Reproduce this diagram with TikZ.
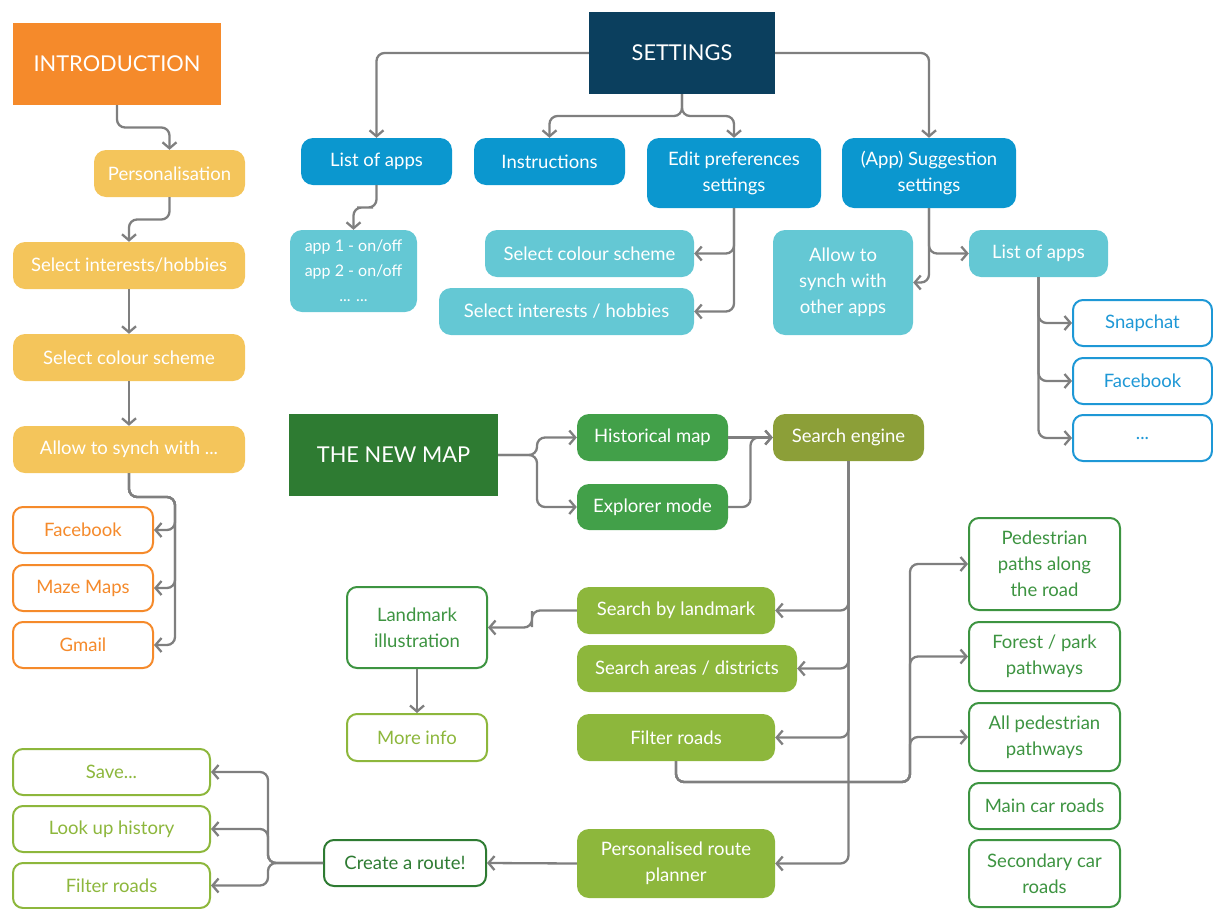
\documentclass[tikz,border=0pt]{standalone}
\usepackage{fontspec}
\setmainfont{Lato}
\usetikzlibrary{arrows.meta,calc}
\definecolor{cOrange}{HTML}{F58A2B}
\definecolor{cYellow}{HTML}{F4C55B}
\definecolor{cNavy}{HTML}{0B3F5E}
\definecolor{cBlue}{HTML}{0B97CF}
\definecolor{cTeal}{HTML}{64C8D4}
\definecolor{cOBlue}{HTML}{1E98D6}
\definecolor{cDGreen}{HTML}{2E7B32}
\definecolor{cMGreen}{HTML}{42A049}
\definecolor{cOlive}{HTML}{8C9F38}
\definecolor{cLGreen}{HTML}{8DB73C}
\definecolor{cOGreen}{HTML}{3D9441}
\definecolor{cLine}{HTML}{7F7F7F}
\begin{document}
\begin{tikzpicture}[x=1pt,y=-1pt,
  box/.style={rounded corners=12pt, inner sep=0pt, align=center, font=\fontsize{18.5}{26}\selectfont, text=white},
  fbox/.style={box, fill=#1},
  obox/.style={box, draw=#1, line width=2pt, text=#1, fill=white, rounded corners=10pt},
  head/.style={fill=#1, text=white, font=\fontsize{21.8}{26}\selectfont, inner sep=0pt},
  conn/.style={draw=cLine, line width=2.3pt, rounded corners=8pt, -{Straight Barb[length=6pt,width=14pt]}},
]
\useasboundingbox (0,0) rectangle (1213,908);

% INTRODUCTION branch
\node[head=cOrange, minimum width=208pt, minimum height=82pt] (intro) at (117,64) {INTRODUCTION};
\node[fbox=cYellow, minimum width=151pt, minimum height=47pt] (pers) at (169.5,173.5) {Personalisation};
\node[fbox=cYellow, minimum width=232pt, minimum height=47pt] (selint) at (129,265.5) {Select interests/hobbies};
\node[fbox=cYellow, minimum width=232pt, minimum height=47pt] (selcol) at (129,357.5) {Select colour scheme};
\node[fbox=cYellow, minimum width=232pt, minimum height=47pt] (allow) at (129,449.5) {Allow to synch with ...};
\node[obox=cOrange, minimum width=140pt, minimum height=46pt] (fb) at (83,530) {Facebook};
\node[obox=cOrange, minimum width=140pt, minimum height=46pt] (maze) at (83,588) {Maze Maps};
\node[obox=cOrange, minimum width=140pt, minimum height=46pt] (gmail) at (83,645) {Gmail};

\draw[conn] (intro.south) |- ($(intro.south)!.5!(pers.north)$) -| (pers.north);
\draw[conn] (pers.south) |- ($(pers.south)!.5!(selint.north)$) -| (selint.north);
\draw[conn] (selint.south) -- (selcol.north);
\draw[conn] (selcol.south) -- (allow.north);
\coordinate (j1) at (175,497);
\draw[conn] (allow.south) |- (j1) |- (fb.east);
\draw[conn] (allow.south) |- (j1) |- (maze.east);
\draw[conn] (allow.south) |- (j1) |- (gmail.east);

% SETTINGS branch
\node[head=cNavy, minimum width=186pt, minimum height=82pt] (settings) at (682,53) {SETTINGS};
\node[fbox=cBlue, minimum width=151pt, minimum height=47pt] (loa) at (376.5,161.5) {List of apps};
\node[fbox=cBlue, minimum width=151pt, minimum height=47pt] (instr) at (549.5,161.5) {Instructions};
\node[fbox=cBlue, minimum width=174pt, minimum height=70pt] (editp) at (734,173) {Edit preferences\\settings};
\node[fbox=cBlue, minimum width=174pt, minimum height=70pt] (sugg) at (929,173) {(App) Suggestion\\settings};
\node[fbox=cTeal, minimum width=127pt, minimum height=82pt, font=\fontsize{16}{25}\selectfont] (apps) at (353.5,271) {app 1 - on/off\\app 2 - on/off\\... ...};
\node[fbox=cTeal, minimum width=209pt, minimum height=47pt] (scs) at (589.5,253.5) {Select colour scheme};
\node[fbox=cTeal, minimum width=255pt, minimum height=47pt] (sih) at (566.5,311.5) {Select interests / hobbies};
\node[fbox=cTeal, minimum width=140pt, minimum height=105pt] (allowsync) at (843,282.5) {Allow to\\synch with\\other apps};
\node[fbox=cTeal, minimum width=139pt, minimum height=47pt] (loa2) at (1038.5,253.5) {List of apps};
\node[obox=cOBlue, minimum width=139pt, minimum height=46pt] (snap) at (1142.5,323) {Snapchat};
\node[obox=cOBlue, minimum width=139pt, minimum height=46pt] (fb2) at (1142.5,381) {Facebook};
\node[obox=cOBlue, minimum width=139pt, minimum height=46pt] (dots) at (1142.5,438) {...};

\draw[conn] (settings.west) -| (loa.north);
\draw[conn] (settings.south) |- ($(settings.south)!.5!(instr.north)$) -| (instr.north);
\draw[conn] (settings.south) |- ($(settings.south)!.5!(editp.north)$) -| (editp.north);
\draw[conn] (settings.east) -| (sugg.north);
\draw[conn] (loa.south) |- ($(loa.south)!.5!(apps.north)$) -| (apps.north);
\draw[conn] (editp.south) |- (scs.east);
\draw[conn] (editp.south) |- (sih.east);
\draw[conn] (sugg.south) |- (allowsync.east);
\draw[conn] (sugg.south) |- (loa2.west);
\draw[conn] (loa2.south) |- (snap.west);
\draw[conn] (loa2.south) |- (fb2.west);
\draw[conn] (loa2.south) |- (dots.west);

% THE NEW MAP branch
\node[head=cDGreen, minimum width=209pt, minimum height=82pt] (newmap) at (393.5,455) {THE NEW MAP};
\node[fbox=cMGreen, minimum width=151pt, minimum height=47pt] (hist) at (652.5,437.5) {Historical map};
\node[fbox=cMGreen, minimum width=151pt, minimum height=46pt] (expl) at (652.5,507) {Explorer mode};
\node[fbox=cOlive, minimum width=151pt, minimum height=47pt] (search) at (848.5,437.5) {Search engine};
\node[fbox=cLGreen, minimum width=198pt, minimum height=47pt] (sland) at (676,610.5) {Search by landmark};
\node[fbox=cLGreen, minimum width=220pt, minimum height=47pt] (sarea) at (687,668.5) {Search areas / districts};
\node[fbox=cLGreen, minimum width=198pt, minimum height=47pt] (filt) at (676,737.5) {Filter roads};
\node[fbox=cLGreen, minimum width=198pt, minimum height=69pt] (prp) at (676,863.5) {Personalised route\\planner};
\node[obox=cOGreen, minimum width=140pt, minimum height=81pt] (landill) at (417,627.5) {Landmark\\illustration};
\node[obox=cLGreen, minimum width=140pt, minimum height=47pt] (more) at (417,737.5) {More info};
\node[obox=cOGreen, minimum width=151pt, minimum height=92pt] (ped) at (1044.5,564) {Pedestrian\\paths along\\the road};
\node[obox=cOGreen, minimum width=151pt, minimum height=69pt] (forest) at (1044.5,656.5) {Forest / park\\pathways};
\node[obox=cOGreen, minimum width=151pt, minimum height=68pt] (allped) at (1044.5,737) {All pedestrian\\pathways};
\node[obox=cOGreen, minimum width=151pt, minimum height=46pt] (maincar) at (1044.5,806) {Main car roads};
\node[obox=cOGreen, minimum width=151pt, minimum height=67pt] (seccar) at (1044.5,873.5) {Secondary car\\roads};
\node[obox=cDGreen, minimum width=162pt, minimum height=46pt] (create) at (405,863) {Create a route!};
\node[obox=cLGreen, minimum width=197pt, minimum height=46pt] (save) at (111.5,772) {Save...};
\node[obox=cLGreen, minimum width=197pt, minimum height=46pt] (look) at (111.5,829) {Look up history};
\node[obox=cLGreen, minimum width=197pt, minimum height=45pt] (filt2) at (111.5,885.5) {Filter roads};

\coordinate (nmj) at (537,455);
\draw[conn] (newmap.east) -- (nmj) |- (hist.west);
\draw[conn] (newmap.east) -- (nmj) |- (expl.west);
\draw[conn] (hist.east) -- (search.west);
\coordinate (exj) at (750.5,437.5);
\draw[conn] (expl.east) -| (exj) -- (search.west);
\draw[conn] (search.south) |- (sland.east);
\draw[conn] (search.south) |- (sarea.east);
\draw[conn] (search.south) |- (filt.east);
\draw[conn] (search.south) |- (prp.east);
\coordinate (lj) at (532,619);
\draw[conn] (sland.west) -| (lj) |- (landill.east);
\draw[conn] (landill.south) -- (more.north);
\coordinate (fj) at (910,782);
\draw[conn] (filt.south) |- (fj) |- (ped.west);
\draw[conn] (filt.south) |- (fj) |- (forest.west);
\draw[conn] (filt.south) |- (fj) |- (allped.west);
\draw[conn] (prp.west) -- (create.east);
\coordinate (cj) at (268,863);
\draw[conn] (create.west) -- (cj) |- (save.east);
\draw[conn] (create.west) -- (cj) |- (look.east);
\draw[conn] (create.west) -- (cj) |- (filt2.east);
\end{tikzpicture}
\end{document}
